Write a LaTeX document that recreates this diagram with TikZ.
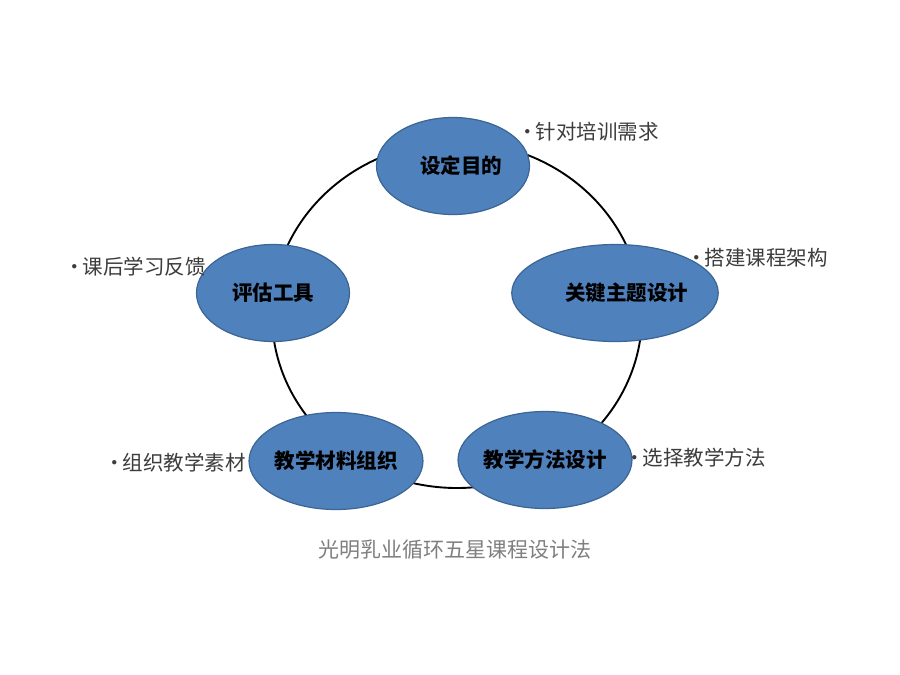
\documentclass[tikz,border=0pt]{standalone}
\usepackage{fontspec}
\setmainfont{Noto Sans CJK SC}
\usetikzlibrary{shapes.geometric}

\definecolor{azzurro}{HTML}{4F81BD}
\definecolor{bordo}{HTML}{3A6594}
\definecolor{testo}{HTML}{3C3C3C}
\definecolor{didascalia}{HTML}{7F7F7F}

\tikzset{
  fase/.style={ellipse, draw=bordo, line width=1.2pt, fill=azzurro,
    minimum width=153pt, minimum height=97pt, inner sep=0pt,
    font=\fontsize{20.5}{24}\selectfont\bfseries, text=black},
  voce/.style={anchor=west, inner sep=0pt, text=testo,
    font=\fontsize{20.5}{24}\selectfont},
}

\begin{document}
\begin{tikzpicture}[x=1pt,y=-1pt]

\useasboundingbox[fill=white] (0,0) rectangle (900,675);

%Traccia l'anello che unisce le fasi
\coordinate (centro) at (457,315);
\draw[line width=1.9pt] (centro) ellipse [x radius=185, y radius=173];

%Disegna le cinque fasi
\node[fase] (obiettivo) at (453,166) {\hspace{16pt}设定目的};
\node[fase, minimum width=165pt] (temi) at (615,293) {\hspace{23pt}关键主题设计};
\node[fase] (metodi) at (545,460) {教学方法设计};
\node[fase] (materiali) at (336,461) {教学材料组织};
\node[fase] (valutazione) at (273,293) {评估工具};

%Voci puntate accanto alle fasi
\node[voce] (vobiettivo) at (517,132) {•\kern-2pt 针对培训需求};
\node[voce] (vtemi) at (686,258) {•\kern-2pt 搭建课程架构};
\node[voce] (vmetodi) at (624,458) {•\kern-2pt 选择教学方法};
\node[voce] (vmateriali) at (104,463) {•\kern-2pt 组织教学素材};
\node[voce] (vvalutazione) at (64,267) {•\kern-2pt 课后学习反馈};

%Didascalia
\node[font=\fontsize{21}{25}\selectfont, text=didascalia] (titolo) at (455,550) {光明乳业循环五星课程设计法};

\end{tikzpicture}
\end{document}
